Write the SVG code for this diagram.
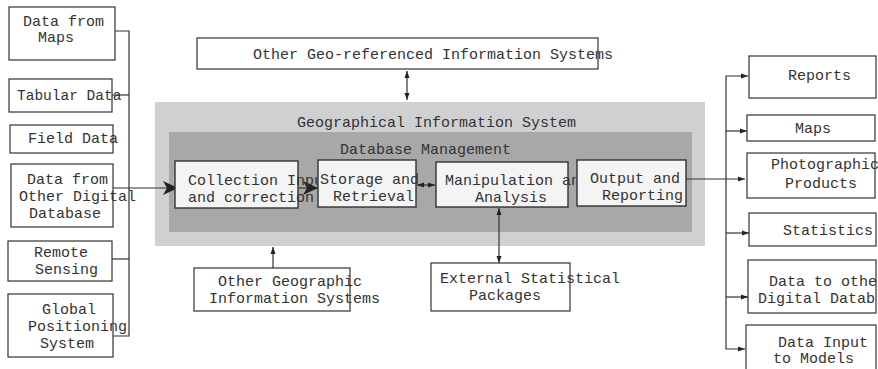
<svg xmlns="http://www.w3.org/2000/svg" width="878" height="369" viewBox="0 0 878 369">
<defs>
<style>
.box{fill:#ffffff;stroke:#333333;stroke-width:1.2}
.pbox{fill:#f4f4f4;stroke:#333333;stroke-width:1.4}
.t{font-size:15px;fill:#333333}
.ln{fill:none;stroke:#333333;stroke-width:1.2}
</style>
<marker id="big" markerUnits="userSpaceOnUse" markerWidth="16" markerHeight="16" viewBox="0 0 16 16" refX="15" refY="8" orient="auto">
<path d="M0,1 L15,8 L0,15 L4,8 Z" fill="#222222"/>
</marker>
<marker id="sm" markerUnits="userSpaceOnUse" markerWidth="8" markerHeight="8" viewBox="0 0 8 8" refX="7" refY="4" orient="auto">
<path d="M0,1.5 L7,4 L0,6.5 Z" fill="#222222"/>
</marker>
<marker id="smS" markerUnits="userSpaceOnUse" markerWidth="8" markerHeight="8" viewBox="0 0 8 8" refX="1" refY="4" orient="auto">
<path d="M8,1.5 L1,4 L8,6.5 Z" fill="#222222"/>
</marker>
</defs>
<g font-family="Liberation Mono, Courier New, monospace">
<g id="gis-outer">
<rect x="155" y="102" width="550" height="144" fill="#d0d0d2"/>
<text class="t" x="297" y="127">Geographical Information System</text>
</g>
<g id="dbm">
<rect x="169" y="132" width="523" height="100" fill="#a8a8a8"/>
<text class="t" x="340" y="154">Database Management</text>
</g>

<g id="connectors">
<polyline class="ln" points="115,31 129,31 129,336 113,336"/>
<line class="ln" x1="112" y1="95" x2="129" y2="95"/>
<line class="ln" x1="112" y1="259" x2="129" y2="259"/>
<line class="ln" x1="113" y1="188" x2="178" y2="188" marker-end="url(#big)"/>
<line class="ln" x1="298" y1="188" x2="318" y2="188" marker-end="url(#big)"/>
<line class="ln" x1="417" y1="185" x2="435" y2="185" marker-start="url(#smS)" marker-end="url(#sm)"/>
<line class="ln" x1="686" y1="179" x2="745" y2="179" marker-end="url(#sm)"/>
<polyline class="ln" points="748,76 726,76 726,349 745,349" marker-start="url(#smS)" marker-end="url(#sm)"/>
<line class="ln" x1="726" y1="131" x2="747" y2="131" marker-end="url(#sm)"/>
<line class="ln" x1="726" y1="233" x2="749" y2="233" marker-end="url(#sm)"/>
<line class="ln" x1="726" y1="297" x2="748" y2="297" marker-end="url(#sm)"/>
<line class="ln" x1="407" y1="71" x2="407" y2="100" marker-start="url(#smS)" marker-end="url(#sm)"/>
<line class="ln" x1="273" y1="268" x2="273" y2="247" marker-end="url(#sm)"/>
<line class="ln" x1="499" y1="208" x2="499" y2="263" marker-start="url(#smS)" marker-end="url(#sm)"/>
</g>

<g id="data-from-maps"><rect class="box" x="9" y="7" width="106" height="53"/><text class="t" x="23" y="26">Data from</text><text class="t" x="38" y="42">Maps</text></g>
<g id="tabular-data"><rect class="box" x="9" y="79" width="103" height="33"/><text class="t" x="17" y="100" style="font-size:14.5px">Tabular Data</text></g>
<g id="field-data"><rect class="box" x="10" y="125" width="103" height="28"/><text class="t" x="28" y="143">Field Data</text></g>
<g id="data-other-db"><rect class="box" x="11" y="164" width="102" height="63"/><text class="t" x="27" y="184">Data from</text><text class="t" x="19" y="201">Other Digital</text><text class="t" x="29" y="218">Database</text></g>
<g id="remote-sensing"><rect class="box" x="8" y="241" width="104" height="40"/><text class="t" x="34" y="257">Remote</text><text class="t" x="35" y="274">Sensing</text></g>
<g id="gps"><rect class="box" x="8" y="294" width="105" height="63"/><text class="t" x="42" y="314">Global</text><text class="t" x="28" y="331">Positioning</text><text class="t" x="40" y="348">System</text></g>

<g id="other-geo-ref"><rect class="box" x="197" y="38" width="401" height="31"/><text class="t" x="253" y="59">Other Geo-referenced Information Systems</text></g>

<g id="collection"><rect class="pbox" x="175" y="161" width="123" height="47"/><text class="t" x="188" y="185">Collection Input</text><text class="t" x="188" y="202">and correction</text></g>
<g id="storage"><rect class="pbox" x="318" y="160" width="98" height="47"/><text class="t" x="320" y="184">Storage and</text><text class="t" x="333" y="201">Retrieval</text></g>
<g id="manipulation"><rect class="pbox" x="436" y="162" width="132" height="45"/><text class="t" x="445" y="185">Manipulation and</text><text class="t" x="475" y="202">Analysis</text></g>
<g id="output"><rect class="pbox" x="577" y="160" width="109" height="46"/><text class="t" x="590" y="183">Output and</text><text class="t" x="602" y="200">Reporting</text></g>

<g id="other-gis"><rect class="box" x="194" y="268" width="156" height="43"/><text class="t" x="218" y="286">Other Geographic</text><text class="t" x="209" y="303">Information Systems</text></g>
<g id="ext-stat"><rect class="box" x="431" y="263" width="139" height="48"/><text class="t" x="440" y="283">External Statistical</text><text class="t" x="469" y="300">Packages</text></g>

<g id="reports"><rect class="box" x="749" y="56" width="127" height="42"/><text class="t" x="788" y="80">Reports</text></g>
<g id="maps"><rect class="box" x="747" y="115" width="128" height="26"/><text class="t" x="795" y="133">Maps</text></g>
<g id="photo"><rect class="box" x="747" y="153" width="128" height="45"/><text class="t" x="771" y="169">Photographic</text><text class="t" x="785" y="188">Products</text></g>
<g id="statistics"><rect class="box" x="749" y="213" width="127" height="33"/><text class="t" x="783" y="235">Statistics</text></g>
<g id="data-to-other"><rect class="box" x="748" y="260" width="128" height="53"/><text class="t" x="769" y="286">Data to othe</text><text class="t" x="758" y="303">Digital Datab</text></g>
<g id="data-input"><rect class="box" x="746" y="325" width="130" height="50"/><text class="t" x="778" y="347">Data Input</text><text class="t" x="773" y="363">to Models</text></g>
</g>
</svg>
